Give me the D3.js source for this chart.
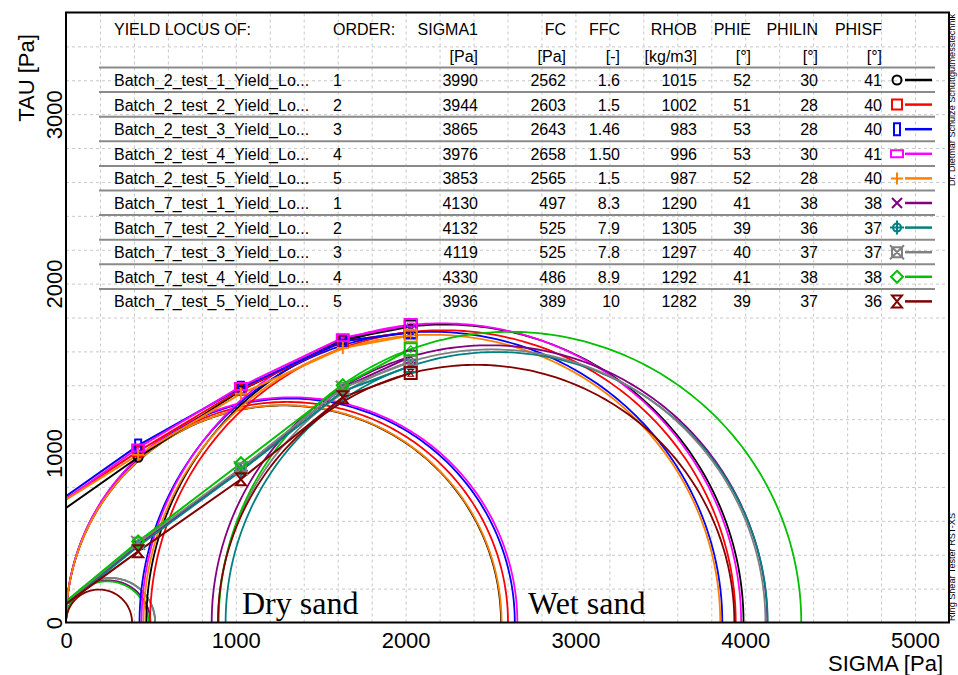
<!DOCTYPE html>
<html>
<head>
<meta charset="utf-8">
<script src="https://cdn.jsdelivr.net/npm/d3@7/dist/d3.min.js"></script>
<style>
  body { margin: 0; background: #fff; }
  text { font-family: "Liberation Sans", Arial, sans-serif; fill: #000; }
</style>
</head>
<body>
<div id="chart"></div>
<script>
// table of the yield loci
const names = [
  "Batch_2_test_1_Yield_Lo...", "Batch_2_test_2_Yield_Lo...", "Batch_2_test_3_Yield_Lo...",
  "Batch_2_test_4_Yield_Lo...", "Batch_2_test_5_Yield_Lo...", "Batch_7_test_1_Yield_Lo...",
  "Batch_7_test_2_Yield_Lo...", "Batch_7_test_3_Yield_Lo...", "Batch_7_test_4_Yield_Lo...",
  "Batch_7_test_5_Yield_Lo..."
];
const order = ["1", "2", "3", "4", "5", "1", "2", "3", "4", "5"];
const sigma1 = [3990, 3944, 3865, 3976, 3853, 4130, 4132, 4119, 4330, 3936];
const fc = [2562, 2603, 2643, 2658, 2565, 497, 525, 525, 486, 389];
const ffc = ["1.6", "1.5", "1.46", "1.50", "1.5", "8.3", "7.9", "7.8", "8.9", "10"];
const rhob = [1015, 1002, 983, 996, 987, 1290, 1305, 1297, 1292, 1282];
const phie = [52, 51, 53, 53, 52, 41, 39, 40, 41, 39];
const philin = [30, 28, 28, 30, 28, 38, 36, 37, 38, 37];
const phisf = [41, 40, 40, 41, 40, 38, 37, 37, 38, 36];

// minor principal stress of each consolidation circle
const sigma2 = [473, 495, 433, 445, 457, 858, 940, 896, 899, 895];

// yield locus points: intercept, three shear points, preshear point
const sigmaN = [0, 425, 1030, 1630, 2030];
const tauB2t1 = [676, 975, 1370, 1670, 1747];
const tauB2t2 = [730, 1010, 1375, 1660, 1714];
const tauB2t3 = [745, 1045, 1385, 1660, 1712];
const tauB2t4 = [728, 1030, 1393, 1680, 1756];
const tauB2t5 = [725, 990, 1350, 1620, 1693];
const tauB7t1 = [115, 460, 905, 1385, 1569];
const tauB7t2 = [105, 450, 895, 1365, 1514];
const tauB7t3 = [120, 470, 910, 1385, 1539];
const tauB7t4 = [125, 478, 940, 1400, 1613];
const tauB7t5 = [110, 420, 845, 1330, 1473];
const tauPoints = [tauB2t1, tauB2t2, tauB2t3, tauB2t4, tauB2t5, tauB7t1, tauB7t2, tauB7t3, tauB7t4, tauB7t5];

const xTicks = [0, 1000, 2000, 3000, 4000, 5000];
const yTicks = [0, 1000, 2000, 3000];

const colors = ["#000000", "#ff0000", "#0000ff", "#ff00ff", "#ff8000",
                "#800080", "#008080", "#808080", "#00c000", "#800000"];
const markers = ["circle", "square", "rectTall", "rectWide", "plus",
                 "cross", "circlePlus", "squareX", "diamond", "hourglass"];

const width = 958, height = 675;
const plot = { left: 66, right: 949, top: 12.5, bottom: 622.5 };

const svg = d3.select("#chart").append("svg")
  .attr("width", width)
  .attr("height", height);

const x = d3.scaleLinear().domain([0, 5200]).range([plot.left, plot.right]);
const y = d3.scaleLinear().domain([0, 3600]).range([plot.bottom, plot.top]);

svg.append("clipPath").attr("id", "plotClip")
  .append("rect")
  .attr("x", plot.left).attr("y", plot.top)
  .attr("width", plot.right - plot.left).attr("height", plot.bottom - plot.top);

// grid
svg.append("g")
  .attr("transform", `translate(0, ${plot.bottom})`)
  .call(d3.axisBottom(x).tickValues(d3.range(200, 5200, 200)).tickSize(-(plot.bottom - plot.top)).tickFormat(""))
  .call(g => g.select(".domain").remove())
  .selectAll("line").attr("stroke", "#c8c8c8").attr("stroke-dasharray", "3,3");
svg.append("g")
  .attr("transform", `translate(${plot.left}, 0)`)
  .call(d3.axisLeft(y).tickValues(d3.range(200, 3600, 200)).tickSize(-(plot.right - plot.left)).tickFormat(""))
  .call(g => g.select(".domain").remove())
  .selectAll("line").attr("stroke", "#c8c8c8").attr("stroke-dasharray", "3,3");

// tick labels
svg.append("g")
  .attr("transform", `translate(0, ${plot.bottom})`)
  .call(d3.axisBottom(x).tickValues(xTicks).tickSize(0).tickPadding(10).tickFormat(d3.format("d")))
  .call(g => g.select(".domain").remove())
  .selectAll("text")
  .attr("font-size", "22px").attr("font-family", "Liberation Sans, Arial, sans-serif").attr("fill", "#000");

svg.append("g")
  .attr("transform", `translate(${plot.left}, 0)`)
  .call(d3.axisLeft(y).tickValues(yTicks).tickSize(0).tickFormat(d3.format("d")))
  .call(g => g.select(".domain").remove())
  .selectAll("text")
  .attr("x", 0).attr("dy", 0)
  .attr("text-anchor", "middle")
  .attr("transform", "translate(-4, 0) rotate(-90)")
  .attr("font-size", "22px").attr("font-family", "Liberation Sans, Arial, sans-serif").attr("fill", "#000");

// axis titles
svg.append("text")
  .text("SIGMA [Pa]")
  .attr("x", 943).attr("y", 671)
  .attr("text-anchor", "end")
  .attr("font-size", "22px");
svg.append("text")
  .text("TAU [Pa]")
  .attr("transform", "translate(34, 78) rotate(-90)")
  .attr("text-anchor", "middle")
  .attr("font-size", "22px");

// side notes
svg.append("text")
  .text("Dr. Dietmar Schulze Schüttgutmesstechnik")
  .attr("transform", "translate(955, 186) rotate(-90)")
  .attr("textLength", 172).attr("lengthAdjust", "spacingAndGlyphs")
  .attr("font-size", "9.5px").attr("fill", "#222");
svg.append("text")
  .text("Ring Shear Tester RST-XS")
  .attr("transform", "translate(955, 621) rotate(-90)")
  .attr("textLength", 108).attr("lengthAdjust", "spacingAndGlyphs")
  .attr("font-size", "9.5px").attr("fill", "#222");

// table
const rowY = i => 86 + i * 24.6;
const cols = [
  { x: 114, anchor: "start", head: "YIELD LOCUS OF:", unit: "", val: i => names[i] },
  { x: 333, anchor: "start", head: "ORDER:", unit: "", val: i => order[i] },
  { x: 478, anchor: "end", head: "SIGMA1", unit: "[Pa]", val: i => sigma1[i] },
  { x: 566, anchor: "end", head: "FC", unit: "[Pa]", val: i => fc[i] },
  { x: 620, anchor: "end", head: "FFC", unit: "[-]", val: i => ffc[i] },
  { x: 697, anchor: "end", head: "RHOB", unit: "[kg/m3]", val: i => rhob[i] },
  { x: 751, anchor: "end", head: "PHIE", unit: "[°]", val: i => phie[i] },
  { x: 818, anchor: "end", head: "PHILIN", unit: "[°]", val: i => philin[i] },
  { x: 882, anchor: "end", head: "PHISF", unit: "[°]", val: i => phisf[i] }
];

const table = svg.append("g").attr("class", "table").attr("font-size", "16px");

table.selectAll("line.rowline")
  .data(d3.range(0, 10))
  .enter().append("line")
  .attr("class", "rowline")
  .attr("x1", 99).attr("x2", 935)
  .attr("y1", i => 67.5 + i * 24.6).attr("y2", i => 67.5 + i * 24.6)
  .attr("stroke", "#8a8a8a").attr("stroke-width", 2);

cols.forEach(c => {
  table.append("text").text(c.head)
    .attr("x", c.x).attr("y", 35).attr("text-anchor", c.anchor).attr("font-size", "16px");
  if (c.unit) {
    table.append("text").text(c.unit)
      .attr("x", c.x).attr("y", 62).attr("text-anchor", c.anchor).attr("font-size", "16px");
  }
  table.selectAll(null)
    .data(d3.range(names.length))
    .enter().append("text")
    .text(i => c.val(i))
    .attr("x", c.x).attr("y", i => rowY(i))
    .attr("text-anchor", c.anchor)
    .attr("font-size", "16px");
});

// marker shapes
const rectP = (w, h) => `M${-w},${-h}H${w}V${h}H${-w}Z`;
const circP = r => `M${r},0A${r},${r} 0 1,1 ${-r},0A${r},${r} 0 1,1 ${r},0`;
const markerPaths = {
  circle: circP(4.5),
  square: rectP(5, 5),
  rectTall: rectP(3, 6),
  rectWide: rectP(6, 3.5),
  plus: "M-6,0H6M0,-6V6",
  cross: "M-5,-5L5,5M-5,5L5,-5",
  circlePlus: circP(4) + "M-7,0H7M0,-7V7",
  squareX: rectP(5, 5) + "M-7,-7L7,7M-7,7L7,-7",
  diamond: "M0,-6L6,0L0,6L-6,0Z",
  hourglass: "M-5,-6H5L-5,6H5Z"
};

// legend in the table
const legend = table.selectAll("g.legend")
  .data(d3.range(names.length))
  .enter().append("g")
  .attr("class", "legend")
  .attr("transform", i => `translate(0, ${rowY(i) - 6})`);
legend.append("path")
  .attr("d", i => markerPaths[markers[i]])
  .attr("transform", "translate(897, 0)")
  .attr("fill", "none")
  .attr("stroke", i => colors[i])
  .attr("stroke-width", 2);
legend.append("line")
  .attr("x1", 905).attr("x2", 932)
  .attr("stroke", i => colors[i])
  .attr("stroke-width", 2.5);

// Mohr circles and yield loci
const angles = d3.range(0, 181).map(a => a * Math.PI / 180);
const halfCircle = (c, r) => angles.map(t => [c + r * Math.cos(t), r * Math.sin(t)]);
const line = d3.line().x(d => x(d[0])).y(d => y(d[1]));

const series = names.map((n, i) => ({
  i: i,
  color: colors[i],
  marker: markers[i],
  fcCircle: halfCircle(fc[i] / 2, fc[i] / 2),
  bigCircle: halfCircle((sigma1[i] + sigma2[i]) / 2, (sigma1[i] - sigma2[i]) / 2),
  locus: sigmaN.map((s, k) => [s, tauPoints[i][k]])
}));

const plotG = svg.append("g").attr("clip-path", "url(#plotClip)");

plotG.selectAll("path.fc")
  .data(series)
  .enter().append("path")
  .attr("class", "fc")
  .attr("d", d => line(d.fcCircle))
  .attr("fill", "none").attr("stroke", d => d.color).attr("stroke-width", 1.8);

plotG.selectAll("path.big")
  .data(series)
  .enter().append("path")
  .attr("class", "big")
  .attr("d", d => line(d.bigCircle))
  .attr("fill", "none").attr("stroke", d => d.color).attr("stroke-width", 1.8);

plotG.selectAll("path.locus")
  .data(series)
  .enter().append("path")
  .attr("class", "locus")
  .attr("d", d => line(d.locus))
  .attr("fill", "none").attr("stroke", d => d.color).attr("stroke-width", 2);

series.forEach(s => {
  // shear points
  plotG.selectAll(null)
    .data(s.locus.slice(1, 4))
    .enter().append("path")
    .attr("d", markerPaths[s.marker])
    .attr("transform", d => `translate(${x(d[0])}, ${y(d[1])})`)
    .attr("fill", "none").attr("stroke", s.color).attr("stroke-width", 2);
  // preshear point
  const pre = s.locus[4];
  plotG.append("path")
    .attr("d", rectP(6, 6))
    .attr("transform", `translate(${x(pre[0])}, ${y(pre[1])})`)
    .attr("fill", "none").attr("stroke", s.color).attr("stroke-width", 2);
  plotG.append("path")
    .attr("d", markerPaths[s.marker])
    .attr("transform", `translate(${x(pre[0])}, ${y(pre[1])}) scale(0.55)`)
    .attr("fill", "none").attr("stroke", s.color).attr("stroke-width", 2);
});

// frame
svg.append("rect")
  .attr("x", plot.left).attr("y", plot.top)
  .attr("width", plot.right - plot.left).attr("height", plot.bottom - plot.top)
  .attr("fill", "none").attr("stroke", "#000").attr("stroke-width", 2);

// annotations
svg.append("text").text("Dry sand")
  .attr("x", 242).attr("y", 614)
  .style("font-family", "'Liberation Serif', 'Times New Roman', serif")
  .attr("font-size", "32px");
svg.append("text").text("Wet sand")
  .attr("x", 528).attr("y", 614)
  .style("font-family", "'Liberation Serif', 'Times New Roman', serif")
  .attr("font-size", "32px");
</script>
</body>
</html>
